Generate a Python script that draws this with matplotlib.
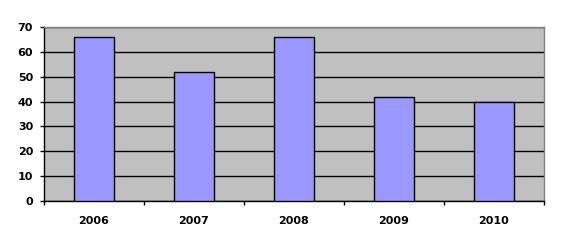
import numpy as np
import matplotlib
matplotlib.use('Agg')
import matplotlib.pyplot as plt

years = ['2006', '2007', '2008', '2009', '2010']
values = [66, 52, 66, 42, 40]

plt.rcParams['font.family'] = ['DejaVu Sans']

fig = plt.figure(figsize=(5.83, 2.49), dpi=100)
ax = fig.add_axes([43.5 / 583, 1 - 201 / 249, (544 - 43.5) / 583, (201 - 27) / 249])
ax.set_facecolor('#C0C0C0')

x = np.arange(len(years))
ax.bar(x, values, width=0.4, color='#9999FF', edgecolor='black', linewidth=1, zorder=3)

ax.set_xlim(-0.5, len(years) - 0.5)
ax.set_ylim(0, 70)
ax.set_yticks(range(0, 71, 10))
ax.yaxis.grid(True, color='black', linewidth=1, zorder=1)
ax.set_axisbelow(True)

# category labels centred, tick marks between categories
ax.set_xticks(x)
ax.set_xticklabels(years, fontsize=8, fontweight='bold')
ax.tick_params(axis='x', length=0, pad=11)
ax.set_xticks(np.arange(-0.5, len(years)), minor=True)
ax.tick_params(axis='x', which='minor', length=3, width=1, color='black')
ax.tick_params(axis='y', length=3, width=1, color='black', pad=4.5, labelsize=8)
for lbl in ax.get_yticklabels():
    lbl.set_fontweight('bold')

ax.spines['left'].set_color('black')
ax.spines['bottom'].set_color('black')
ax.spines['top'].set_color('#808080')
ax.spines['right'].set_color('#808080')
for s in ax.spines.values():
    s.set_linewidth(1)

fig.savefig('out.png', dpi=100)
